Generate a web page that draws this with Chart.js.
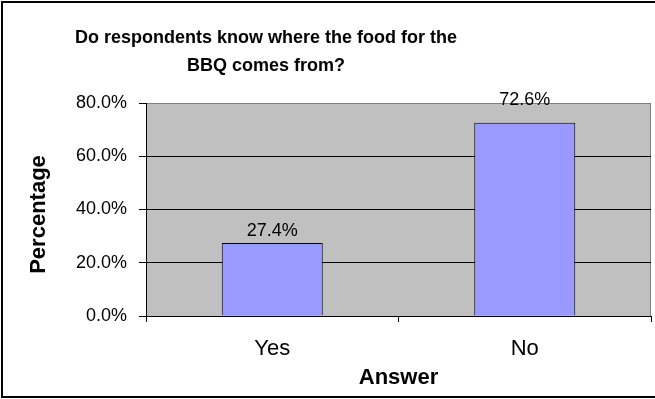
<!DOCTYPE html>
<html>
<head>
<meta charset="utf-8">
<title>BBQ food origin</title>
<style>
  html, body { margin: 0; padding: 0; background: #fff; }
  #wrap { width: 655px; height: 399px; }
</style>
</head>
<body>
<script src="https://cdn.jsdelivr.net/npm/chart.js@4/dist/chart.umd.min.js"></script>

<div id="wrap"><canvas id="myChart" width="655" height="399"></canvas></div>

<script type="text/javascript">
var answers = ["Yes", "No"];
var percentages = [27.4, 72.6];
var yTicks = [0, 20, 40, 60, 80];
var titleLines = ["Do respondents know where the food for the", "BBQ comes from?"];
var xTitle = "Answer";
var yTitle = "Percentage";

var FONT = "'Liberation Sans', Arial, sans-serif";

function pct(v) {
  return v.toFixed(1) + "%";
}

// frame, grey plot background, titles and value labels
var excelLook = {
  id: "excelLook",
  beforeDraw: function (chart) {
    var c = chart.ctx, a = chart.chartArea;
    c.save();
    c.fillStyle = "#fff";
    c.fillRect(0, 0, chart.width, chart.height);
    c.fillStyle = "#C0C0C0";
    c.fillRect(a.left, a.top, a.right - a.left, a.bottom - a.top);
    c.strokeStyle = "#808080";
    c.lineWidth = 1;
    c.beginPath();
    c.moveTo(a.left, a.top + 0.5);
    c.lineTo(a.right - 0.5, a.top + 0.5);
    c.lineTo(a.right - 0.5, a.bottom);
    c.stroke();
    c.restore();
  },
  afterDraw: function (chart) {
    var c = chart.ctx, a = chart.chartArea;
    c.save();
    // outer frame
    c.strokeStyle = "#000";
    c.lineWidth = 2;
    c.strokeRect(2, 2, 760, 395);

    c.fillStyle = "#000";
    c.textAlign = "center";
    c.textBaseline = "middle";
    c.font = "bold 18px " + FONT;
    c.fillText(titleLines[0], 266, 38.5);
    c.fillText(titleLines[1], 266, 66);

    c.font = "bold 22px " + FONT;
    c.fillText(xTitle, (a.left + a.right) / 2, 377.5);
    c.save();
    c.translate(38.5, (a.top + a.bottom) / 2 + 5);
    c.rotate(-Math.PI / 2);
    c.fillText(yTitle, 0, 0);
    c.restore();

    // value labels above the bars; a label that would cross the top edge sits just above it
    c.font = "18px " + FONT;
    c.textBaseline = "alphabetic";
    var meta = chart.getDatasetMeta(0);
    meta.data.forEach(function (bar, i) {
      var y = bar.y - 7;
      if (y - 18 < a.top) y = a.top + 2;
      c.fillText(pct(percentages[i]), bar.x, y);
    });
    c.restore();
  }
};

var ctx = document.getElementById("myChart").getContext("2d");

var myChart = new Chart(ctx, {
  type: "bar",
  data: {
    labels: answers,
    datasets: [{
      data: percentages,
      backgroundColor: "#9999FF",
      borderColor: "#000",
      borderWidth: 1,
      barPercentage: 0.4,
      categoryPercentage: 1.0
    }]
  },
  options: {
    responsive: false,
    animation: false,
    layout: { padding: { top: 103, right: 4, left: 0, bottom: 0 } },
    plugins: {
      legend: { display: false },
      tooltip: { enabled: false },
      title: { display: false }
    },
    scales: {
      x: {
        offset: true,
        afterFit: function (scale) { scale.height = 83; },
        grid: {
          offset: true,
          drawOnChartArea: false,
          color: "#000",
          tickLength: 6
        },
        border: { color: "#000", width: 1 },
        ticks: {
          color: "#000",
          padding: 14,
          font: { family: FONT, size: 22 }
        }
      },
      y: {
        min: yTicks[0],
        max: yTicks[yTicks.length - 1],
        afterFit: function (scale) { scale.width = 146; },
        afterBuildTicks: function (scale) {
          scale.ticks = yTicks.map(function (v) { return { value: v }; });
        },
        grid: {
          color: function (c) {
            return c.tick && c.tick.value === 80 ? "#808080" : "#000";
          },
          tickColor: "#000",
          tickLength: 7
        },
        border: { color: "#000", width: 1 },
        ticks: {
          color: "#000",
          padding: 12,
          font: { family: FONT, size: 18 },
          callback: function (v) { return pct(v); }
        }
      }
    }
  },
  plugins: [excelLook]
});
</script>
</body>
</html>
